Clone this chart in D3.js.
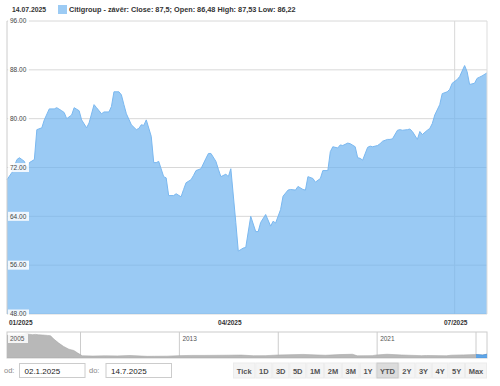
<!DOCTYPE html>
<html>
<head>
<meta charset="utf-8">
<script src="https://cdn.jsdelivr.net/npm/d3@7"></script>
<style>
    body { margin: 0; background: #fff; font-family: Arial, "Liberation Sans", sans-serif; }
    svg { display: block; }
</style>
</head>
<body>
<svg id="chart" width="500" height="386"></svg>
<script>
// Citigroup close
const dates = [
    '2025-01-02','2025-01-04','2025-01-06','2025-01-07','2025-01-09','2025-01-10','2025-01-11','2025-01-13',
    '2025-01-14','2025-01-16','2025-01-17','2025-01-19','2025-01-21','2025-01-22','2025-01-24','2025-01-25',
    '2025-01-26','2025-01-28','2025-01-29','2025-01-31','2025-02-01','2025-02-03','2025-02-04','2025-02-06',
    '2025-02-07','2025-02-09','2025-02-10','2025-02-12','2025-02-13','2025-02-14','2025-02-16','2025-02-17',
    '2025-02-18','2025-02-19','2025-02-21','2025-02-23','2025-02-24','2025-02-25','2025-02-26','2025-02-27',
    '2025-03-01','2025-03-02','2025-03-03','2025-03-04','2025-03-06','2025-03-07','2025-03-08','2025-03-10',
    '2025-03-11','2025-03-13','2025-03-14','2025-03-15','2025-03-17','2025-03-18','2025-03-19','2025-03-21',
    '2025-03-23','2025-03-24','2025-03-25','2025-03-27','2025-03-28','2025-03-29','2025-03-31','2025-04-01',
    '2025-04-02','2025-04-04','2025-04-05','2025-04-07','2025-04-08','2025-04-10','2025-04-12','2025-04-13',
    '2025-04-14','2025-04-16','2025-04-18','2025-04-19','2025-04-20','2025-04-22','2025-04-23','2025-04-25',
    '2025-04-26','2025-04-28','2025-04-29','2025-05-01','2025-05-02','2025-05-03','2025-05-05','2025-05-06',
    '2025-05-08','2025-05-09','2025-05-11','2025-05-12','2025-05-13','2025-05-15','2025-05-16','2025-05-17',
    '2025-05-19','2025-05-20','2025-05-22','2025-05-23','2025-05-24','2025-05-25','2025-05-27','2025-05-28',
    '2025-05-29','2025-05-31','2025-06-01','2025-06-02','2025-06-04','2025-06-05','2025-06-06','2025-06-08',
    '2025-06-09','2025-06-10','2025-06-12','2025-06-13','2025-06-14','2025-06-16','2025-06-17','2025-06-18',
    '2025-06-20','2025-06-21','2025-06-22','2025-06-23','2025-06-25','2025-06-26','2025-06-28','2025-06-29',
    '2025-06-30','2025-07-02','2025-07-03','2025-07-05','2025-07-06','2025-07-07','2025-07-09','2025-07-10',
    '2025-07-11','2025-07-12','2025-07-14'
];
const closes = [
    70.0, 71.2, 73.3, 73.6, 73.0, 71.7, 72.8, 73.3,
    78.2, 78.5, 79.8, 81.6, 81.6, 81.8, 81.3, 81.0,
    80.0, 80.6, 81.8, 81.3, 79.8, 78.5, 79.3, 82.3,
    81.8, 80.8, 81.1, 81.1, 82.0, 84.4, 84.4, 83.9,
    82.3, 80.8, 79.0, 78.2, 78.4, 79.0, 78.9, 79.8,
    77.1, 72.8, 72.8, 73.0, 70.5, 70.3, 67.4, 67.4,
    67.7, 67.2, 68.4, 69.5, 70.0, 70.7, 71.5, 71.8,
    73.5, 74.3, 74.3, 73.0, 71.7, 70.5, 70.9, 70.5,
    71.8, 63.0, 58.3, 58.8, 58.9, 64.0, 61.5, 61.5,
    63.0, 64.3, 62.4, 63.2, 62.9, 65.1, 67.3, 68.3,
    68.4, 68.3, 68.9, 68.4, 68.3, 70.5, 70.2, 69.6,
    70.2, 71.5, 71.5, 74.6, 75.4, 75.2, 75.7, 75.6,
    76.0, 75.9, 75.4, 73.6, 73.5, 73.2, 75.3, 75.5,
    75.4, 75.6, 75.9, 76.3, 76.6, 76.6, 76.7, 78.1,
    78.2, 78.1, 78.2, 78.3, 77.9, 76.6, 77.9, 77.4,
    78.1, 78.4, 79.2, 80.6, 82.3, 84.1, 84.4, 84.8,
    85.8, 86.4, 86.9, 88.7, 87.7, 85.6, 85.8, 86.6,
    86.8, 87.0, 87.5
];

const yTicks = [48, 56, 64, 72, 80, 88, 96];
const xTickDates = ['2025-04-01', '2025-07-01'];
const xTickLabels = ['01/2025', '04/2025', '07/2025'];
const xGridDates = ['2025-07-01'];

// Navigator (long history)
const navYears = [
    2006.0, 2006.5, 2006.9, 2007.05, 2007.18, 2007.3, 2007.46, 2007.66, 2007.79, 2007.92,
    2008.12, 2008.32, 2008.53, 2008.73, 2008.89, 2009.07, 2009.5, 2010.0, 2010.5, 2011.0,
    2011.7, 2012.0, 2012.5, 2013.0, 2013.5, 2014.0, 2015.0, 2015.5, 2016.0, 2016.5,
    2017.0, 2018.0, 2018.9, 2019.5, 2020.0, 2020.2, 2020.8, 2021.0, 2021.4, 2022.0,
    2022.8, 2023.0, 2023.8, 2024.0, 2024.5, 2025.0, 2025.27, 2025.53
];
const navValues = [
    530, 545, 560, 548, 555, 545, 540, 530, 521, 442,
    346, 264, 199, 168, 106, 41, 35, 40, 38, 48,
    28, 30, 32, 45, 50, 50, 55, 58, 42, 45,
    60, 74, 54, 70, 78, 40, 45, 62, 78, 60,
    44, 48, 41, 55, 63, 70, 60, 87.5
];
const navGridYears = [2009, 2013, 2017, 2021, 2025];
const navLabelYears = [2005, 2013, 2021];

const rangeButtons = ['Tick', '1D', '3D', '5D', '1M', '2M', '3M', '1Y', 'YTD', '2Y', '3Y', '4Y', '5Y', 'Max'];
const activeButton = 'YTD';

const svg = d3.select('#chart');
const parse = d3.timeParse('%Y-%m-%d');
const data = dates.map((d, i) => ({ date: parse(d), close: closes[i] }));

const plot = { left: 7, right: 487, top: 21, bottom: 314 };

const x = d3.scaleTime()
    .domain([parse('2025-01-02'), parse('2025-07-14')])
    .range([plot.left, plot.right]);
const y = d3.scaleLinear()
    .domain([48, 96])
    .range([plot.bottom, plot.top]);

// Header
svg.append('text')
    .attr('x', 12).attr('y', 12)
    .attr('font-size', 6.8).attr('font-weight', 'bold').attr('fill', '#333')
    .text('14.07.2025');
svg.append('rect')
    .attr('x', 58).attr('y', 5).attr('width', 9).attr('height', 9)
    .attr('fill', '#9ccbf4');
svg.append('text')
    .attr('x', 69).attr('y', 12)
    .attr('font-size', 7.3).attr('font-weight', 'bold').attr('fill', '#333')
    .text('Citigroup - závěr: Close: 87,5; Open: 86,48 High: 87,53 Low: 86,22');

// Grid
svg.append('g')
    .selectAll('line')
    .data(yTicks)
    .join('line')
    .attr('x1', plot.left).attr('x2', plot.right)
    .attr('y1', d => y(d)).attr('y2', d => y(d))
    .attr('stroke', '#d8d8d8').attr('stroke-width', 1);

svg.append('g')
    .selectAll('line')
    .data(xGridDates)
    .join('line')
    .attr('x1', d => x(parse(d))).attr('x2', d => x(parse(d)))
    .attr('y1', plot.top).attr('y2', plot.bottom)
    .attr('stroke', '#d8d8d8').attr('stroke-width', 1);

// Area
const area = d3.area()
    .x(d => x(d.date))
    .y0(plot.bottom)
    .y1(d => y(d.close));
const line = d3.line()
    .x(d => x(d.date))
    .y(d => y(d.close));

svg.append('path')
    .datum(data)
    .attr('d', area)
    .attr('fill', '#6fb3f0')
    .attr('fill-opacity', 0.7);
svg.append('path')
    .datum(data)
    .attr('d', line)
    .attr('fill', 'none')
    .attr('stroke', '#7ab8f0')
    .attr('stroke-width', 1);

// Plot frame
svg.append('line')
    .attr('x1', plot.left).attr('x2', plot.left)
    .attr('y1', plot.top).attr('y2', plot.bottom)
    .attr('stroke', '#ccc');
svg.append('line')
    .attr('x1', plot.right).attr('x2', plot.right)
    .attr('y1', plot.top).attr('y2', plot.bottom)
    .attr('stroke', '#ddd');

// Y labels with white boxes
const yLab = svg.append('g').selectAll('g')
    .data(yTicks)
    .join('g')
    .attr('transform', d => `translate(${plot.left + 1},${y(d)})`);
yLab.append('rect')
    .attr('x', 0).attr('y', -4.5).attr('width', 21).attr('height', 9)
    .attr('fill', '#fff').attr('fill-opacity', 0.85);
yLab.append('text')
    .attr('x', 2).attr('y', 2.3)
    .attr('font-size', 6.5).attr('fill', '#444')
    .text(d => d3.format('.2f')(d));

// X labels
const xLabelPos = [plot.left + 2, x(parse(xTickDates[0])) + 1.5, x(parse(xTickDates[1])) + 1];
svg.append('g').selectAll('text')
    .data(xTickLabels)
    .join('text')
    .attr('x', (d, i) => xLabelPos[i])
    .attr('y', 325)
    .attr('text-anchor', (d, i) => i === 0 ? 'start' : 'middle')
    .attr('font-size', 6.5).attr('font-weight', 'bold').attr('fill', '#333')
    .text(d => d);

// Navigator
const nav = { left: 7, right: 487, top: 332, bottom: 358 };
const nx = d3.scaleLinear().domain([2009, 2025]).range([80.5, 476]);
const ny = d3.scaleLinear().domain([0, 600]).range([nav.bottom - 0.5, nav.top + 0.5]);
const navData = navYears.map((yr, i) => ({ yr, v: navValues[i] }));

svg.append('defs').append('clipPath').attr('id', 'navclip')
    .append('rect')
    .attr('x', nav.left).attr('y', nav.top)
    .attr('width', nav.right - nav.left).attr('height', nav.bottom - nav.top);
svg.select('defs').append('clipPath').attr('id', 'selclip')
    .append('rect')
    .attr('x', nx(2025.0)).attr('y', nav.top)
    .attr('width', nav.right - nx(2025.0)).attr('height', nav.bottom - nav.top);

svg.append('rect')
    .attr('x', nav.left).attr('y', nav.top)
    .attr('width', nav.right - nav.left).attr('height', nav.bottom - nav.top)
    .attr('fill', '#fff').attr('stroke', '#ccc');

svg.append('g').selectAll('line')
    .data(navGridYears)
    .join('line')
    .attr('x1', d => nx(d)).attr('x2', d => nx(d))
    .attr('y1', nav.top).attr('y2', nav.bottom)
    .attr('stroke', '#ccc');

const navArea = d3.area()
    .x(d => nx(d.yr))
    .y0(nav.bottom)
    .y1(d => ny(d.v));

svg.append('path')
    .datum(navData)
    .attr('clip-path', 'url(#navclip)')
    .attr('d', navArea)
    .attr('fill', '#b8b8b8')
    .attr('stroke', '#a8a8a8')
    .attr('stroke-width', 0.6);

svg.append('path')
    .datum(navData)
    .attr('clip-path', 'url(#selclip)')
    .attr('d', navArea)
    .attr('fill', '#5fa6e8')
    .attr('stroke', '#4a90d9')
    .attr('stroke-width', 0.6);

const navLab = svg.append('g').selectAll('g')
    .data(navLabelYears)
    .join('g')
    .attr('transform', d => `translate(${Math.max(nx(d) + 1, nav.left + 1)},${nav.top + 7})`);
navLab.append('rect')
    .attr('x', 0).attr('y', -5).attr('width', 20).attr('height', 9)
    .attr('fill', '#fff').attr('fill-opacity', (d, i) => i === 0 ? 0.85 : 0);
navLab.append('text')
    .attr('x', 2).attr('y', 2)
    .attr('font-size', 6.5).attr('fill', '#555')
    .text(d => d);

// Date inputs
const inputs = [
    { label: 'od:', value: '02.1.2025', lx: 4, bx: 19.5 },
    { label: 'do:', value: '14.7.2025', lx: 89, bx: 106 }
];
inputs.forEach(inp => {
    svg.append('text')
        .attr('x', inp.lx).attr('y', 373)
        .attr('font-size', 7.5).attr('fill', '#888')
        .text(inp.label);
    svg.append('rect')
        .attr('x', inp.bx).attr('y', 363.5).attr('width', 65.5).attr('height', 14)
        .attr('fill', '#fff').attr('stroke', '#ccc');
    svg.append('text')
        .attr('x', inp.bx + 5).attr('y', 373.5)
        .attr('font-size', 8).attr('fill', '#222')
        .text(inp.value);
});

// Range buttons
const btnG = svg.append('g');
const btnTexts = btnG.selectAll('text')
    .data(rangeButtons)
    .join('text')
    .attr('font-size', 7.5).attr('font-weight', 'bold').attr('fill', '#555')
    .attr('text-anchor', 'middle')
    .attr('y', 373.5)
    .text(d => d);
const widths = [];
btnTexts.each(function () { widths.push(this.getComputedTextLength()); });
const bStart = 233, bEnd = 487;
const pad = (bEnd - bStart - d3.sum(widths)) / rangeButtons.length;
let cx = bStart;
const bx = widths.map(w => { const s = cx; cx += w + pad; return s; });
btnG.selectAll('rect')
    .data(rangeButtons)
    .join('rect')
    .lower()
    .attr('x', (d, i) => bx[i] + 0.5)
    .attr('y', 363)
    .attr('width', (d, i) => widths[i] + pad - 1)
    .attr('height', 15)
    .attr('fill', d => d === activeButton ? '#dcdcdc' : '#f4f4f4')
    .attr('stroke', d => d === activeButton ? '#c8c8c8' : '#ececec');
btnTexts.attr('x', (d, i) => bx[i] + (widths[i] + pad) / 2);
</script>
</body>
</html>
